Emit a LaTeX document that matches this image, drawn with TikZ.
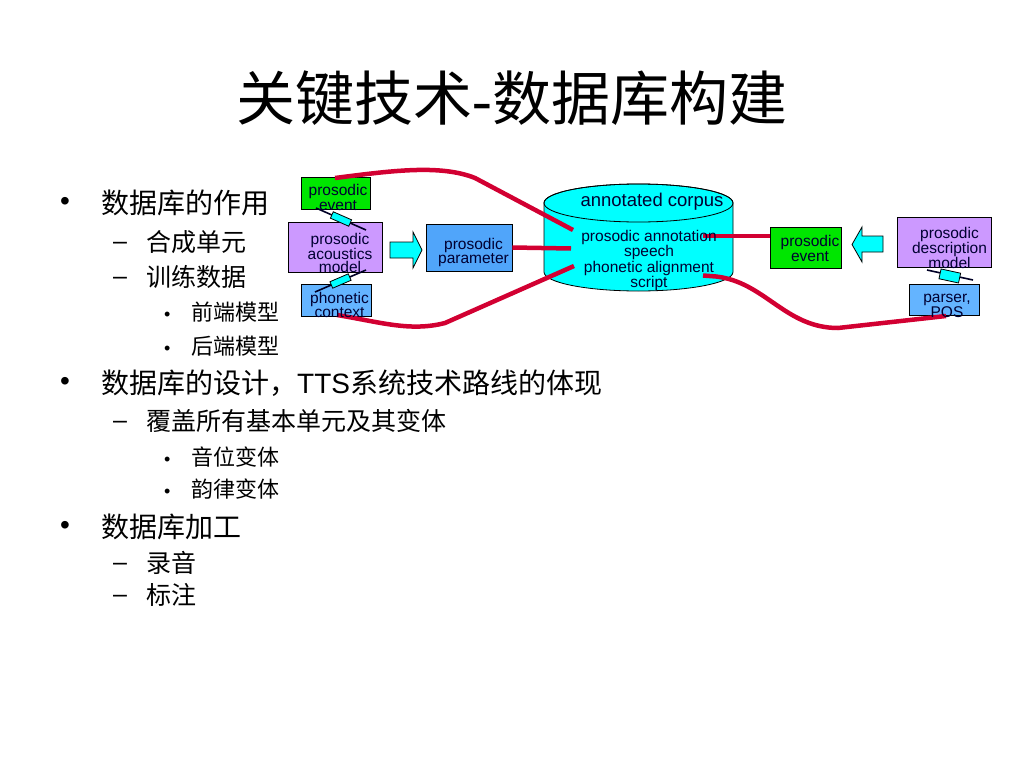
\documentclass[tikz,border=0pt]{standalone}
\usepackage{fontspec}
\setmainfont{Liberation Sans}
\newfontfamily\cjk{Noto Sans CJK SC}
\newfontfamily\serif{Liberation Serif}
\definecolor{cgreen}{RGB}{0,230,0}
\definecolor{cpurple}{RGB}{204,153,255}
\definecolor{cblue}{RGB}{80,165,250}
\definecolor{clblue}{RGB}{100,180,255}
\definecolor{ccyan}{RGB}{0,255,255}
\definecolor{cred}{RGB}{210,0,50}
\definecolor{ctext}{RGB}{0,0,50}
\begin{document}
\begin{tikzpicture}[x=1pt,y=-1pt,
  box/.style={draw=black,line width=0.8pt,inner sep=0pt},
  btxt/.style={align=center,inner sep=0pt,text=ctext,font=\fontsize{15.5}{12.5}\selectfont},
  lone/.style={anchor=west,inner sep=0pt,font=\cjk\fontsize{28}{30}\selectfont},
  ltwo/.style={anchor=west,inner sep=0pt,font=\cjk\fontsize{25}{27}\selectfont},
  lthree/.style={anchor=west,inner sep=0pt,font=\cjk\fontsize{22}{24}\selectfont},
  bone/.style={anchor=west,inner sep=0pt,font=\fontsize{28}{30}\selectfont},
  btwo/.style={anchor=west,inner sep=0pt,font=\fontsize{25}{27}\selectfont},
  bthree/.style={anchor=west,inner sep=0pt,font=\fontsize{18}{20}\selectfont},
  redline/.style={draw=cred,line width=4.5pt},
  link/.style={draw=black!85!blue,line width=1.6pt},
  resist/.style={sloped,draw=black,line width=0.8pt,fill=ccyan,inner sep=0pt,minimum width=20pt,minimum height=7pt},
  blockarrow/.style={draw=black,line width=0.8pt,fill=ccyan}]
\useasboundingbox (0,0) rectangle (1024,768);
\fill[white] (0,0) rectangle (1024,768);

% title
\node[inner sep=0pt] (title) at (512,98) {\fontsize{59}{62}\selectfont\cjk 关键技术\serif -\cjk 数据库构建};

% bullet list
\node[bone] (b1) at (60,204) {•};
\node[lone] (t1) at (101,203) {数据库的作用};
\node[btwo] (d1) at (113,246) {–};
\node[ltwo] (t2) at (146,242) {合成单元};
\node[btwo] (d2) at (113,281) {–};
\node[ltwo] (t3) at (146,277) {训练数据};
\node[bthree] (b2) at (164,316) {•};
\node[lthree] (t4) at (191,312) {前端模型};
\node[bthree] (b3) at (164,350) {•};
\node[lthree] (t5) at (191,346) {后端模型};
\node[bone] (b4) at (60,384) {•};
\node[lone] (t6) at (101,383) {数据库的设计，{\fontspec{Liberation Sans}TTS}系统技术路线的体现};
\node[btwo] (d3) at (113,425) {–};
\node[ltwo] (t7) at (146,421) {覆盖所有基本单元及其变体};
\node[bthree] (b5) at (164,461) {•};
\node[lthree] (t8) at (191,457) {音位变体};
\node[bthree] (b6) at (164,493) {•};
\node[lthree] (t9) at (191,489) {韵律变体};
\node[bone] (b7) at (60,528) {•};
\node[lone] (t10) at (101,527) {数据库加工};
\node[btwo] (d4) at (113,567) {–};
\node[ltwo] (t11) at (146,563) {录音};
\node[btwo] (d5) at (113,599) {–};
\node[ltwo] (t12) at (146,595) {标注};

% boxes
\node[box,fill=cgreen,minimum width=69pt,minimum height=32pt] (evL) at (335.5,193) {};
\node[box,fill=cpurple,minimum width=94pt,minimum height=50pt] (acm) at (335,247) {};
\node[box,fill=clblue,minimum width=70pt,minimum height=32pt] (phc) at (336,300) {};
\node[box,fill=cblue,minimum width=86pt,minimum height=47pt] (par) at (469,247.5) {};
\node[box,fill=cgreen,minimum width=71pt,minimum height=41pt] (evR) at (805.5,247.5) {};
\node[box,fill=cpurple,minimum width=94pt,minimum height=50pt] (pdm) at (944,242) {};
\node[box,fill=clblue,minimum width=70pt,minimum height=31pt] (pos) at (944,299.5) {};

% resistor-like links
\coordinate (r1a) at (316,208); \coordinate (r1b) at (366,230);
\coordinate (r2a) at (315,292); \coordinate (r2b) at (366,270);
\coordinate (r3a) at (927,270); \coordinate (r3b) at (973,280);
\draw[link] (r1a) -- node[resist] (res1) {} (r1b);
\draw[link] (r2a) -- node[resist] (res2) {} (r2b);
\draw[link] (r3a) -- node[resist,minimum width=20pt,minimum height=10pt,yshift=-1pt] (res3) {} (r3b);

% block arrows
\draw[blockarrow] (390,242) -- (413,242) -- (413,232) -- (422,250) -- (413,268) -- (413,258) -- (390,258) -- cycle;
\draw[blockarrow] (883,236) -- (862,236) -- (862,227) -- (852,244.5) -- (862,262) -- (862,252) -- (883,252) -- cycle;

% cylinder
\draw[fill=ccyan,line width=0.8pt] (544,203) -- (544,272) arc[start angle=180,end angle=360,x radius=94.5,y radius=-19] -- (733,203) arc[start angle=0,end angle=180,x radius=94.5,y radius=-19] -- cycle;
\draw[line width=0.8pt] (638.5,203) ellipse[x radius=94.5,y radius=19];

% red connectors
\coordinate (cA) at (573,230);
\coordinate (cB) at (571,248.5);
\coordinate (cC) at (574,266);
\coordinate (cD) at (703,236);
\coordinate (cE) at (703,275.5);
\coordinate (evLt) at (335,178);
\coordinate (phcb) at (337,315);
\coordinate (posb) at (946,316);
\draw[redline] (evLt) .. controls (390,171) and (440,164) .. (475,178) -- (cA);
\draw[redline] (par.east) -- (cB);
\draw[redline] (phcb) .. controls (380,322) and (410,332) .. (445,323) -- (cC);
\draw[redline] (cD) -- (evR.west |- cD);
\draw[redline] (cE) -- (716,276.5) .. controls (765,282) and (785,328) .. (838,328) -- (posb);

% texts
\node[btxt] (tevL) at (338,197.5) {prosodic\\event};
\node[btxt] (tacm) at (340,252.5) {prosodic\\acoustics\\model};
\node[btxt] (tphc) at (339.5,305) {phonetic\\context};
\node[btxt] (tpar) at (473.5,252.5) {prosodic\\parameter};
\node[btxt] (tevR) at (810,248.5) {prosodic\\event};
\node[btxt] (tpdm) at (949.5,248) {prosodic\\description\\model};
\node[btxt] (tpos) at (947,305.5) {parser,\\POS};
\node[btxt,font=\fontsize{18.5}{20}\selectfont] (tcorp) at (652,202) {annotated corpus};
\node[btxt,font=\fontsize{15.5}{13}\selectfont] (tcyl) at (649,260.5) {prosodic annotation\\speech\\phonetic alignment\\script};
\end{tikzpicture}
\end{document}
